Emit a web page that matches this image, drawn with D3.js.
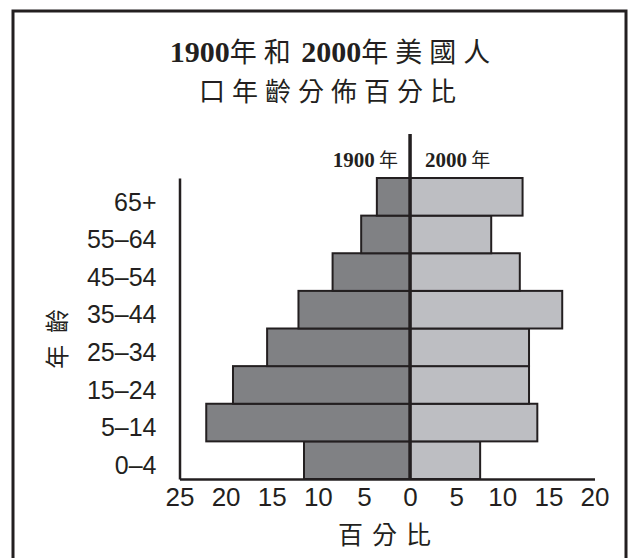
<!DOCTYPE html>
<html><head><meta charset="utf-8">
<script src="https://cdn.jsdelivr.net/npm/d3@7"></script>
<style>body{margin:0;background:#fff}</style>
</head><body>
<script>
const categories = ["0–4","5–14","15–24","25–34","35–44","45–54","55–64","65+"];
const pct1900 = [11.5, 22.1, 19.2, 15.5, 12.1, 8.4, 5.3, 3.6];
const pct2000 = [7.6, 13.8, 12.9, 12.9, 16.5, 11.9, 8.8, 12.2];
const tickValues = [-25,-20,-15,-10,-5,0,5,10,15,20];
const titleLines = ["1900年和2000年美國人","口年齡分佈百分比"];
const seriesNames = ["1900 年","2000 年"];
const xLabel = "百分比", yLabel = "年齡";

const W=630,H=558, ink="#231f20";
const svg=d3.select("body").append("svg").attr("width",W).attr("height",H);
svg.append("rect").attr("x",13).attr("y",11).attr("width",613).attr("height",570)
  .attr("fill","none").attr("stroke",ink).attr("stroke-width",3);

const x=d3.scaleLinear().domain([-25,20]).range([179.5,594.5]);
const y=d3.scaleBand().domain(categories.slice().reverse()).range([178,479]).padding(0);

const cjk="'Noto Sans CJK TC','Noto Sans CJK SC',sans-serif";
const serif="'Liberation Serif','DejaVu Serif',serif";
function mixed(g, str, fs, cfs, ls){
  const t=g.append("text").attr("text-anchor","middle").attr("fill",ink);
  const parts=str.match(/[0-9]+|[^0-9]+/g);
  parts.forEach(p=>{
    const isNum=/^[0-9]/.test(p);
    t.append("tspan").text(p)
      .attr("font-family",isNum?serif:cjk)
      .attr("font-weight",isNum?"bold":"normal")
      .attr("font-size",isNum?fs:cfs)
      .attr("letter-spacing",isNum?0:ls)
      .attr("dx",isNum?ls/2:0);
  });
  return t;
}
mixed(svg, titleLines[0], 30, 27, 7).attr("x",330).attr("y",62);
svg.append("text").text(titleLines[1]).attr("x",331).attr("y",101)
  .attr("text-anchor","middle").attr("font-family",cjk).attr("font-size",26)
  .attr("letter-spacing",7).attr("fill",ink);

// legend labels
mixed(svg, seriesNames[0], 21, 19, 0).attr("text-anchor","end").attr("x",398).attr("y",167);
mixed(svg, seriesNames[1], 21, 19, 0).attr("text-anchor","start").attr("x",425).attr("y",167);

// bars
svg.append("g").selectAll("rect").data(categories).join("rect")
  .attr("x",(d,i)=>x(-pct1900[i])).attr("width",(d,i)=>x(0)-x(-pct1900[i]))
  .attr("y",d=>y(d)).attr("height",y.bandwidth())
  .attr("fill","#808184").attr("stroke",ink).attr("stroke-width",2);
svg.append("g").selectAll("rect").data(categories).join("rect")
  .attr("x",x(0)).attr("width",(d,i)=>x(pct2000[i])-x(0))
  .attr("y",d=>y(d)).attr("height",y.bandwidth())
  .attr("fill","#bdbec2").attr("stroke",ink).attr("stroke-width",2);

// axes
const xAxis=d3.axisBottom(x).tickValues(tickValues).tickSize(0).tickPadding(9)
  .tickFormat(d=>Math.abs(d));
const gx=svg.append("g").attr("transform","translate(0,479)").call(xAxis);
gx.select(".domain").attr("stroke",ink).attr("stroke-width",2.5);
gx.selectAll("text").attr("font-family","'Liberation Sans',Arial,sans-serif")
  .attr("font-size",26).attr("fill",ink);

const yAxis=d3.axisLeft(y).tickSize(0).tickPadding(23);
const gy=svg.append("g").attr("transform","translate(179.5,0)").call(yAxis);
gy.select(".domain").attr("stroke",ink).attr("stroke-width",2.5);
gy.selectAll("text").attr("font-family","'Liberation Sans',Arial,sans-serif")
  .attr("font-size",25).attr("fill",ink).attr("dy","0.55em");

// zero line
svg.append("line").attr("x1",x(0)).attr("x2",x(0)).attr("y1",134).attr("y2",479)
  .attr("stroke",ink).attr("stroke-width",3.5);

// axis titles
svg.append("text").text(xLabel).attr("x",389).attr("y",544)
  .attr("text-anchor","middle").attr("font-family",cjk).attr("font-size",25)
  .attr("letter-spacing",9).attr("fill",ink);
svg.append("text").text(yLabel).attr("transform","translate(66,333) rotate(-90)")
  .attr("text-anchor","middle").attr("font-family",cjk).attr("font-size",24)
  .attr("letter-spacing",12).attr("fill",ink);
</script>
</body></html>
